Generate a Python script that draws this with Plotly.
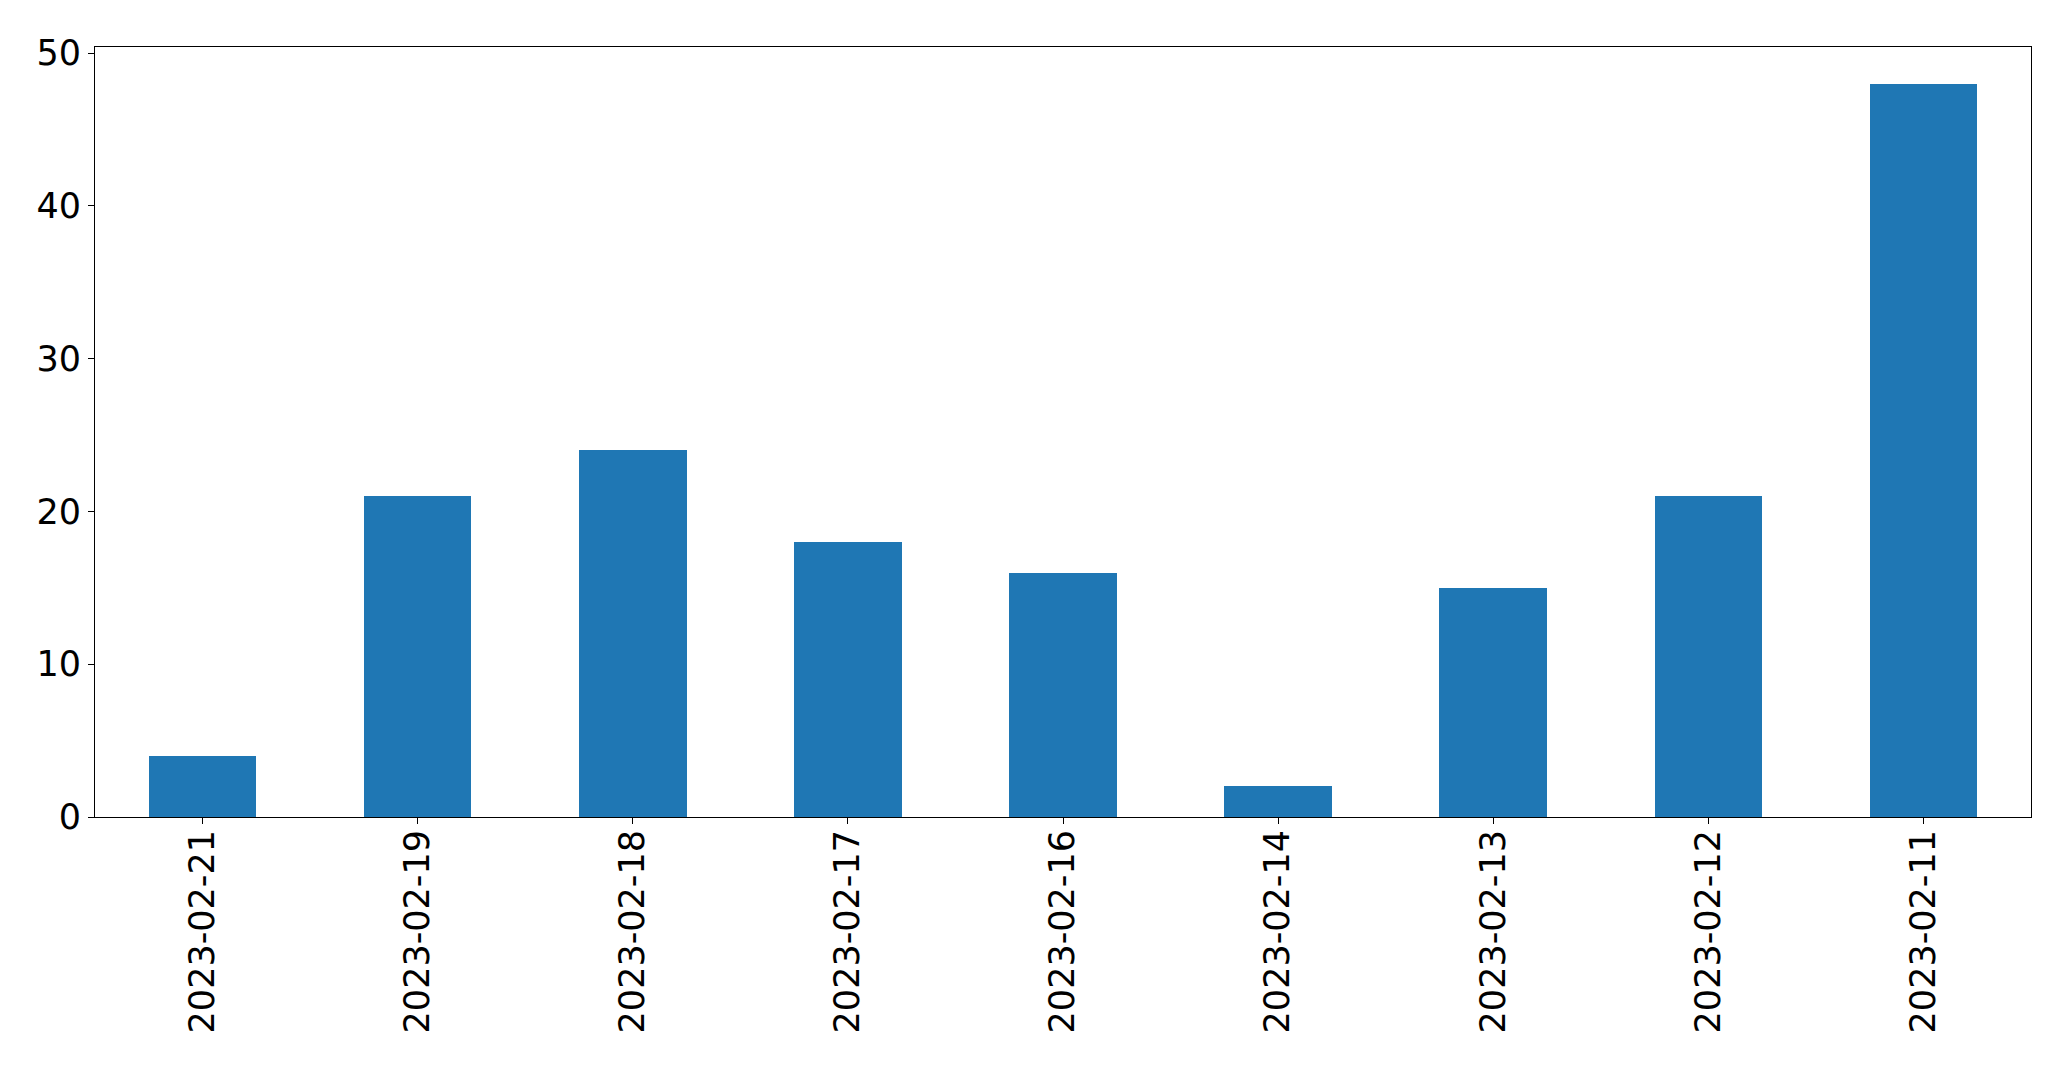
import plotly.graph_objects as go

dates = ["2023-02-21", "2023-02-19", "2023-02-18", "2023-02-17", "2023-02-16",
         "2023-02-14", "2023-02-13", "2023-02-12", "2023-02-11"]
counts = [4, 21, 24, 18, 16, 2, 15, 21, 48]
y_ticks = [0, 10, 20, 30, 40, 50]

fig = go.Figure(go.Bar(x=dates, y=counts, marker=dict(color="#1f77b4", line=dict(width=0)), width=0.5))

fig.update_layout(
    width=2055, height=1053,
    margin=dict(l=87, r=32, t=39, b=244),
    paper_bgcolor="white", plot_bgcolor="white",
    font=dict(family="DejaVu Sans", size=35, color="black"),
    showlegend=False,
    bargap=0,
)
fig.update_xaxes(
    type="category", range=[-0.5, len(dates) - 0.5],
    tickangle=-90, showline=True, linecolor="black", linewidth=1, mirror=True,
    ticks="outside", ticklen=6, tickwidth=1, tickcolor="black", showgrid=False,
    ticklabelstandoff=-8,
)
fig.update_yaxes(
    range=[0, max(counts) * 1.05], tickvals=y_ticks,
    showline=True, linecolor="black", linewidth=1, mirror=True,
    ticks="outside", ticklen=6, tickwidth=1, tickcolor="black", showgrid=False, zeroline=False,
)
fig.write_html("out.html")
